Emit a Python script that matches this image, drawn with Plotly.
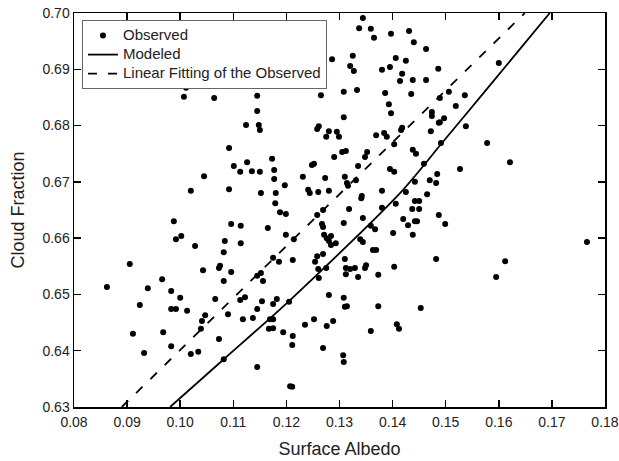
import plotly.graph_objects as go

# Observed points (surface albedo, cloud fraction)
obs_x = [
    0.1011, 0.1007, 0.1064, 0.1145, 0.1145, 0.1124, 0.1148, 0.1150, 0.1092, 0.1101,
    0.1126, 0.1113, 0.1135, 0.1150, 0.1045, 0.1020, 0.1092, 0.1152, 0.1344, 0.1337,
    0.1359, 0.1365, 0.1397, 0.1431, 0.1440, 0.1463, 0.1286, 0.1325, 0.1320, 0.1327,
    0.1380, 0.1395, 0.1406, 0.1425, 0.1418, 0.1414, 0.1438, 0.1463, 0.1486, 0.1265,
    0.1308, 0.1333, 0.1386, 0.1435, 0.1393, 0.1397, 0.1308, 0.1261, 0.1258, 0.1280,
    0.1295, 0.1299, 0.1275, 0.1369, 0.1384, 0.1389, 0.1418, 0.1416, 0.1474, 0.1474,
    0.1487, 0.1472, 0.1403, 0.1312, 0.1305, 0.1352, 0.1348, 0.1438, 0.1444, 0.1290,
    0.1173, 0.1177, 0.1252, 0.1248, 0.1335, 0.1395, 0.1403, 0.1459, 0.1484, 0.1177,
    0.1197, 0.1231, 0.1273, 0.1310, 0.1331, 0.1314, 0.1316, 0.1442, 0.1470, 0.1482,
    0.1180, 0.1241, 0.1244, 0.1260, 0.1280, 0.1342, 0.1341, 0.1380, 0.1425, 0.1442,
    0.1450, 0.1465, 0.1179, 0.1406,
    0.1600, 0.1506, 0.1489, 0.1536, 0.1519, 0.1489, 0.1497, 0.1538, 0.1491, 0.1578,
    0.1621, 0.1527,
    0.0862, 0.0905, 0.0911, 0.0924, 0.0932, 0.0939, 0.0966, 0.0968, 0.0983, 0.0988,
    0.0992, 0.1002, 0.1000, 0.0983, 0.0992, 0.0983, 0.1013, 0.1028, 0.1020, 0.1034,
    0.1043, 0.1041, 0.1047, 0.1039, 0.1066, 0.1073, 0.1075, 0.1082, 0.1073, 0.1082,
    0.1084, 0.1082, 0.1096, 0.1096, 0.1090, 0.1114, 0.1114, 0.1113, 0.1122, 0.1118,
    0.1137, 0.1145, 0.1145,
    0.1188, 0.1199, 0.1165, 0.1199, 0.1214, 0.1258, 0.1269, 0.1318, 0.1267, 0.1269,
    0.1308, 0.1344, 0.1359, 0.1367, 0.1380,
    0.1437, 0.1450, 0.1487, 0.1420, 0.1429, 0.1442, 0.1446, 0.1438, 0.1401, 0.1271,
    0.1276, 0.1284, 0.1280, 0.1293, 0.1284, 0.1339, 0.1344,
    0.1175, 0.1186, 0.1212, 0.1254, 0.1258, 0.1269, 0.1363, 0.1369, 0.1310, 0.1260,
    0.1261, 0.1275, 0.1312, 0.1320, 0.1329, 0.1312, 0.1335, 0.1350, 0.1348, 0.1373,
    0.1403, 0.1482,
    0.1145, 0.1152, 0.1156, 0.1154, 0.1175, 0.1182, 0.1205, 0.1280, 0.1308, 0.1310,
    0.1314, 0.1373, 0.1453, 0.1169, 0.1175, 0.1167, 0.1175, 0.1194, 0.1212, 0.1211,
    0.1235, 0.1252, 0.1276, 0.1288, 0.1359, 0.1408, 0.1412, 0.1269, 0.1307, 0.1308,
    0.1207, 0.1211,
    0.1499, 0.1595, 0.1612, 0.1766,
]
obs_y = [
    0.6867, 0.6851, 0.6849, 0.6853, 0.6826, 0.6801, 0.6801, 0.6792, 0.6760, 0.6728,
    0.6735, 0.6718, 0.6719, 0.6718, 0.6710, 0.6684, 0.6687, 0.6680, 0.6991, 0.6973,
    0.6972, 0.6956, 0.6963, 0.6968, 0.6948, 0.6936, 0.6918, 0.6924, 0.6906, 0.6897,
    0.6899, 0.6904, 0.6920, 0.6915, 0.6892, 0.6879, 0.6881, 0.6881, 0.6901, 0.6854,
    0.6860, 0.6863, 0.6858, 0.6856, 0.6838, 0.6822, 0.6815, 0.6799, 0.6794, 0.6790,
    0.6789, 0.6780, 0.6780, 0.6783, 0.6787, 0.6780, 0.6796, 0.6792, 0.6824, 0.6817,
    0.6805, 0.6790, 0.6767, 0.6755, 0.6753, 0.6753, 0.6744, 0.6757, 0.6750, 0.6744,
    0.6741, 0.6721, 0.6732, 0.6730, 0.6728, 0.6723, 0.6718, 0.6732, 0.6714, 0.6705,
    0.6694, 0.6709, 0.6707, 0.6709, 0.6703, 0.6698, 0.6693, 0.6700, 0.6703, 0.6698,
    0.6680, 0.6686, 0.6680, 0.6682, 0.6684, 0.6675, 0.6671, 0.6684, 0.6682, 0.6666,
    0.6666, 0.6678, 0.6662, 0.6661,
    0.6911, 0.6860, 0.6849, 0.6854, 0.6835, 0.6806, 0.6813, 0.6799, 0.6769, 0.6769,
    0.6735, 0.6723,
    0.6513, 0.6554, 0.6430, 0.6481, 0.6396, 0.6511, 0.6527, 0.6433, 0.6506, 0.6630,
    0.6598, 0.6604, 0.6494, 0.6474, 0.6474, 0.6408, 0.6471, 0.6586, 0.6394, 0.6398,
    0.6543, 0.6453, 0.6463, 0.6439, 0.6492, 0.6547, 0.6551, 0.6524, 0.6421, 0.6385,
    0.6595, 0.6575, 0.6625, 0.6540, 0.6465, 0.6622, 0.6591, 0.6490, 0.6495, 0.6456,
    0.6458, 0.6474, 0.6371,
    0.6646, 0.6643, 0.6618, 0.6606, 0.6598, 0.6641, 0.6650, 0.6652, 0.6625, 0.6620,
    0.6627, 0.6636, 0.6622, 0.6616, 0.6654,
    0.6652, 0.6652, 0.6641, 0.6634, 0.6623, 0.6630, 0.6630, 0.6606, 0.6609, 0.6606,
    0.6600, 0.6604, 0.6595, 0.6591, 0.6588, 0.6598, 0.6593,
    0.6565, 0.6558, 0.6561, 0.6558, 0.6568, 0.6572, 0.6579, 0.6579, 0.6563, 0.6545,
    0.6529, 0.6547, 0.6547, 0.6545, 0.6547, 0.6536, 0.6531, 0.6552, 0.6547, 0.6535,
    0.6549, 0.6563,
    0.6533, 0.6538, 0.6524, 0.6488, 0.6483, 0.6492, 0.6487, 0.6499, 0.6494, 0.6478,
    0.6479, 0.6479, 0.6476, 0.6456, 0.6456, 0.6439, 0.6440, 0.6433, 0.6426, 0.6410,
    0.6446, 0.6456, 0.6444, 0.6453, 0.6435, 0.6447, 0.6439, 0.6405, 0.6392, 0.6380,
    0.6337, 0.6336,
    0.6625, 0.6531, 0.6559, 0.6593,
]
assert len(obs_x) == len(obs_y)

# Modeled curve
model_x = [0.0981, 0.1081, 0.1207, 0.1414, 0.1493, 0.1568, 0.1696]
model_y = [0.6300, 0.6384, 0.6490, 0.6680, 0.6769, 0.6854, 0.7000]

# Linear fitting of the observed (end points at the frame)
fit_x = [0.0890, 0.1649]
fit_y = [0.6300, 0.7000]

series_names = ["Observed", "Modeled", "Linear Fitting of the Observed"]

x_ticks = [0.08, 0.09, 0.10, 0.11, 0.12, 0.13, 0.14, 0.15, 0.16, 0.17, 0.18]
x_labels = ["0.08", "0.09", "0.10", "0.11", "0.12", "0.13", "0.14", "0.15", "0.16", "0.17", "0.18"]
y_ticks = [0.63, 0.64, 0.65, 0.66, 0.67, 0.68, 0.69, 0.70]
y_labels = ["0.63", "0.64", "0.65", "0.66", "0.67", "0.68", "0.69", "0.70"]

FONT = "Liberation Sans, Arial, sans-serif"


def legend_name(s):
    # text drawn at 15px while the legend row spacing follows the smaller legend font
    return "<span style='font-size:15px'>" + s + "</span>"


fig = go.Figure()
fig.add_trace(go.Scatter(
    x=obs_x, y=obs_y, mode="markers", name=legend_name(series_names[0]),
    marker=dict(color="black", size=6, line=dict(width=0)),
))
fig.add_trace(go.Scatter(
    x=model_x, y=model_y, mode="lines", name=legend_name(series_names[1]),
    line=dict(color="black", width=1.8, shape="spline", smoothing=0.8),
))
fig.add_trace(go.Scatter(
    x=fit_x, y=fit_y, mode="lines", name=legend_name(series_names[2]),
    line=dict(color="black", width=1.8, dash="9px,11px"),
))

axis_common = dict(
    automargin=False,
    showline=True, linecolor="black", linewidth=1.5, mirror="ticks",
    ticks="inside", ticklen=7, tickwidth=1.5, tickcolor="black",
    showgrid=False, zeroline=False,
    ticklabeloverflow="allow",
    tickfont=dict(family=FONT, size=14, color="#222"),
)

fig.update_layout(
    template="none",
    width=619, height=461,
    margin=dict(l=74, r=14, t=13, b=54),
    paper_bgcolor="white", plot_bgcolor="white",
    font=dict(family=FONT, color="#222"),
    showlegend=True,
    legend=dict(
        x=0.015, y=0.982, xanchor="left", yanchor="top",
        bgcolor="white", bordercolor="#666", borderwidth=1,
        font=dict(family=FONT, size=12.3, color="#222"),
        tracegroupgap=0,
    ),
    xaxis=dict(
        range=[0.08, 0.180001], tickvals=x_ticks, ticktext=x_labels,
        ticklabelstandoff=2,
        title=dict(text="Surface Albedo", font=dict(family=FONT, size=18, color="#222"), standoff=13),
        **axis_common,
    ),
    yaxis=dict(
        range=[0.63, 0.700001], tickvals=y_ticks, ticktext=y_labels,
        title=dict(text="Cloud Fraction", font=dict(family=FONT, size=18, color="#222"), standoff=13),
        **axis_common,
    ),
)

# remove the browser's default 8px page margin so the figure fills the window exactly
fig.write_html(
    "out.html",
    config={"displayModeBar": False, "staticPlot": True},
    post_script="document.body.style.margin='0px';document.body.style.overflow='hidden';",
)
